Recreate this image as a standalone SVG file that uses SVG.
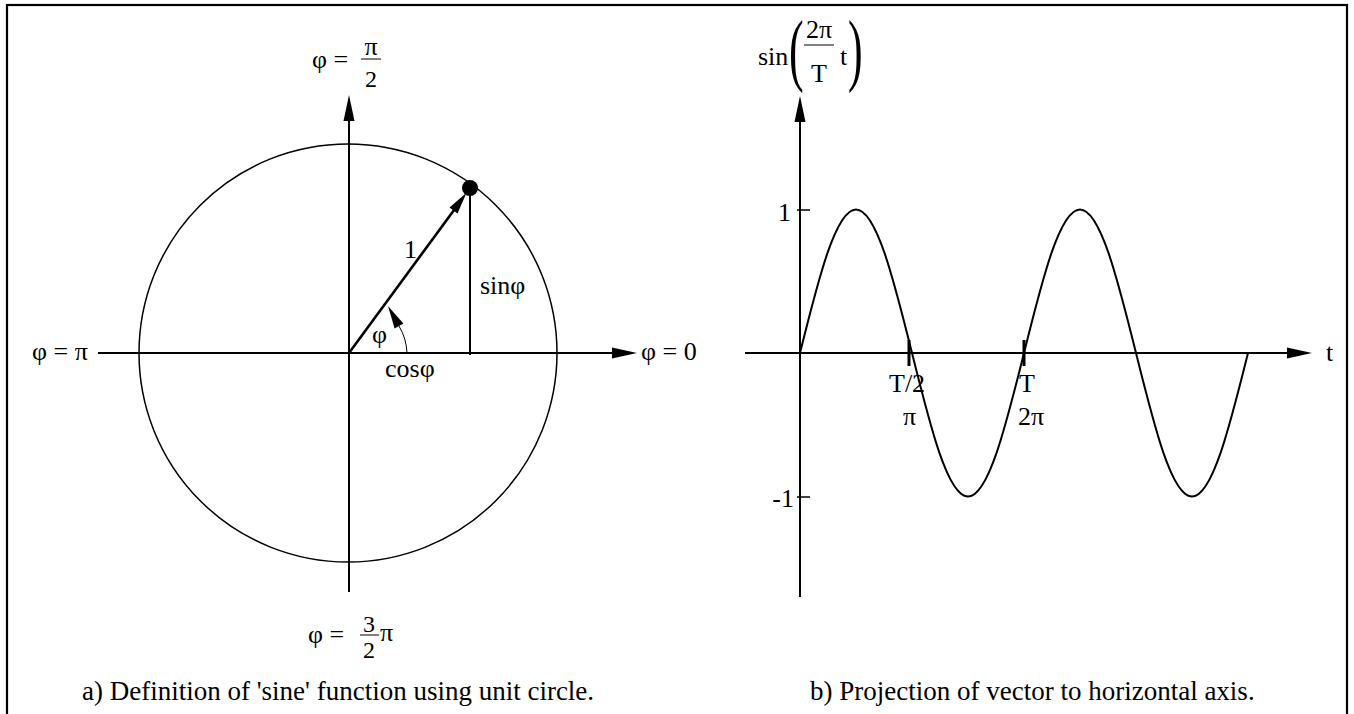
<svg xmlns="http://www.w3.org/2000/svg" width="1354" height="714" viewBox="0 0 1354 714">
<style>
text{font-family:"Liberation Serif","Times New Roman",serif;font-size:26px;fill:#000}
.cap{font-size:27px}
.fr{font-size:24px}
.ln{stroke:#000;stroke-width:2;fill:none}
.thin{stroke:#000;stroke-width:1.5;fill:none}
.ah{fill:#000;stroke:none}
.par{font-size:80px}
</style>
<rect x="7" y="5" width="1340" height="730" fill="none" stroke="#000" stroke-width="2.2"/>
<g id="left-axes">
<line class="ln" x1="349" y1="118" x2="349" y2="592"/>
<polygon class="ah" points="349,95 343.5,121 354.5,121"/>
<line class="ln" x1="98" y1="353" x2="614" y2="353"/>
<polygon class="ah" points="637,353 612,347.5 612,358.5"/>
</g>
<g id="unit-circle">
<circle class="thin" cx="348" cy="353" r="209"/>
</g>
<g id="connectors">
<line stroke="#000" stroke-width="2.6" x1="349" y1="353" x2="457" y2="206"/>
<polygon class="ah" points="466.5,192.8 457.5,213.5 449.5,207.5"/>
<line class="ln" x1="470" y1="188" x2="470" y2="355"/>
<path stroke="#000" stroke-width="1" fill="none" d="M407,353 A57,57 0 0 0 399,326"/>
<polygon class="ah" points="388,306 403.4,323.6 394.6,328.4"/>
</g>
<g id="point">
<circle cx="470" cy="188" r="8" fill="#000"/>
</g>
<g id="left-labels">
<text x="312" y="68">φ =</text>
<text x="371" y="55" text-anchor="middle">π</text>
<line stroke="#000" stroke-width="1" x1="361" y1="59" x2="381" y2="59"/>
<text class="fr" x="371" y="87" text-anchor="middle">2</text>
<text x="32" y="360">φ = π</text>
<text x="641" y="360">φ = 0</text>
<text x="404" y="258">1</text>
<text x="372" y="343">φ</text>
<text x="385" y="377">cosφ</text>
<text x="480" y="294">sinφ</text>
<text x="308" y="643">φ =</text>
<text class="fr" x="369" y="632" text-anchor="middle">3</text>
<line stroke="#000" stroke-width="1" x1="360" y1="635" x2="379" y2="635"/>
<text class="fr" x="369" y="658" text-anchor="middle">2</text>
<text x="380" y="641">π</text>
<text class="cap" x="82" y="700">a) Definition of 'sine' function using unit circle.</text>
</g>
<g id="right-axes">
<line class="ln" x1="800" y1="118" x2="800" y2="597"/>
<polygon class="ah" points="800,96 794.5,122 805.5,122"/>
<line class="ln" x1="745" y1="353" x2="1290" y2="353"/>
<polygon class="ah" points="1312,353 1287,347.5 1287,358.5"/>
<line class="thin" x1="797" y1="210" x2="810" y2="210"/>
<line class="thin" x1="797" y1="497" x2="810" y2="497"/>
<line stroke="#000" stroke-width="3" x1="909" y1="340" x2="909" y2="366"/>
<line stroke="#000" stroke-width="3" x1="1024" y1="340" x2="1024" y2="366"/>
</g>
<g id="sine-curve">
<path class="ln" d="M800,353 C818.26,279.5 835.73,209.5 856,209.5 S893.74,279.5 912,353 S947.73,496.5 968,496.5 S1005.74,426.5 1024,353 S1059.73,209.5 1080,209.5 S1117.74,279.5 1136,353 S1171.73,496.5 1192,496.5 S1229.74,426.5 1248,353"/>
</g>
<g id="right-labels">
<text x="758" y="65">sin</text>
<text class="par" transform="translate(789,76) scale(0.55,1)">(</text>
<text x="819" y="38" text-anchor="middle">2π</text>
<line stroke="#000" stroke-width="1" x1="804" y1="45" x2="834" y2="45"/>
<text x="819" y="82" text-anchor="middle">T</text>
<text x="840" y="65">t</text>
<text class="par" transform="translate(848,76) scale(0.55,1)">)</text>
<text x="791" y="221" text-anchor="end">1</text>
<text x="794" y="507" text-anchor="end">-1</text>
<text x="1326" y="361">t</text>
<text x="889" y="392">T/2</text>
<text x="903" y="425">π</text>
<text x="1019" y="392">T</text>
<text x="1018" y="425">2π</text>
<text class="cap" x="810" y="700">b) Projection of vector to horizontal axis.</text>
</g>
</svg>
